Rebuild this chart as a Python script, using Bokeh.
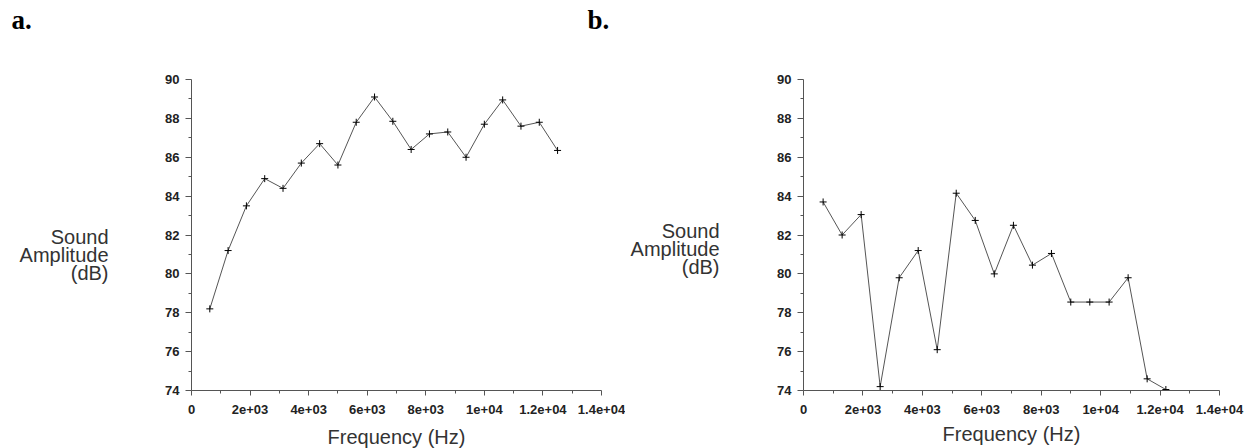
from bokeh.plotting import figure
from bokeh.models import Range1d, FixedTicker, Label
from bokeh.layouts import row
from bokeh.embed import file_html
from bokeh.resources import INLINE

# ---- data ----
freq_a = [625, 1250, 1875, 2500, 3125, 3750, 4375, 5000, 5625, 6250,
          6875, 7500, 8125, 8750, 9375, 10000, 10625, 11250, 11875, 12500]
amp_a = [78.2, 81.2, 83.5, 84.9, 84.4, 85.7, 86.7, 85.6, 87.8, 89.1,
         87.85, 86.4, 87.2, 87.3, 86.0, 87.7, 88.95, 87.6, 87.8, 86.35]

freq_b = [660, 1300, 1940, 2580, 3220, 3860, 4500, 5140, 5780, 6420,
          7065, 7705, 8345, 8995, 9635, 10285, 10925, 11565, 12195]
amp_b = [83.7, 82.0, 83.05, 74.2, 79.8, 81.2, 76.1, 84.15, 82.75, 80.0,
         82.5, 80.45, 81.05, 78.55, 78.55, 78.55, 79.8, 74.6, 74.05]

x_ticks = [0, 2000, 4000, 6000, 8000, 10000, 12000, 14000]
x_tick_labels = ["0", "2e+03", "4e+03", "6e+03", "8e+03", "1e+04", "1.2e+04", "1.4e+04"]
x_minor = [1000, 3000, 5000, 7000, 9000, 11000, 13000]
y_ticks = [74, 76, 78, 80, 82, 84, 86, 88, 90]
y_tick_labels = ["74", "76", "78", "80", "82", "84", "86", "88", "90"]
y_minor = [75, 77, 79, 81, 83, 85, 87, 89]

x_title = "Frequency (Hz)"
y_title = ["Sound", "Amplitude", "(dB)"]
panel_tags = ["a.", "b."]

AX = "#555555"
TXT = "#333333"
SANS = "Liberation Sans"
H = 448


def make_panel(freq, amp, width, border):
    left, right, top, bottom = border
    p = figure(width=width, height=H, output_backend="svg", toolbar_location=None,
               x_range=Range1d(0, 14000), y_range=Range1d(74, 90),
               min_border_left=left, min_border_right=right,
               min_border_top=top, min_border_bottom=bottom)
    p.outline_line_color = None
    p.xgrid.visible = False
    p.ygrid.visible = False
    p.background_fill_color = "white"
    p.border_fill_color = "white"

    p.xaxis.ticker = FixedTicker(ticks=x_ticks, minor_ticks=x_minor)
    p.yaxis.ticker = FixedTicker(ticks=y_ticks, minor_ticks=y_minor)
    p.xaxis.major_label_overrides = dict(zip(x_ticks, x_tick_labels))
    p.yaxis.major_label_overrides = dict(zip(y_ticks, y_tick_labels))
    for ax in (p.xaxis, p.yaxis):
        ax.axis_line_color = AX
        ax.major_tick_line_color = AX
        ax.minor_tick_line_color = AX
        ax.major_tick_in = 0
        ax.minor_tick_in = 0
        ax.major_label_text_font = SANS
        ax.major_label_text_font_size = "13px"
        ax.major_label_text_font_style = "bold"
        ax.major_label_text_color = "#222222"
    p.xaxis.major_tick_out = 5
    p.xaxis.minor_tick_out = 3
    p.yaxis.major_tick_out = 6
    p.yaxis.minor_tick_out = 3
    p.xaxis.major_label_standoff = 9
    p.yaxis.major_label_standoff = 6

    p.line(freq, amp, line_color="#555555", line_width=1)
    p.scatter(freq, amp, marker="cross", size=7, line_color="black", line_width=1)
    return p


def add_text(p, origin, side, px, baseline, text, size, align="left", font=SANS,
             style="normal", color=TXT):
    # text is anchored by its middle; shift from the wanted baseline
    ox, oy = origin
    lab = Label(x=px - ox, y=baseline - 0.35 * size - oy, x_units="canvas", y_units="canvas",
                text=text, text_align=align, text_baseline="middle",
                text_font=font, text_font_size=f"{size}px", text_font_style=style,
                text_color=color)
    p.add_layout(lab, side)


# canvas top-left corner of each figure in page pixels
org_a = (0, 0)
org_b = (625, 0)

# borders: left, right, top, bottom
pa = make_panel(freq_a, amp_a, 625, (191, 24, 79, 55))
pb = make_panel(freq_b, amp_b, 625, (178, 31, 70, 58))

# panel a texts (spread over side panels that have room)
sides = ["left", "above", "left"]
for txt, by, sd in zip(y_title, [243, 261, 279], sides):
    add_text(pa, org_a, sd, 108, by, txt, 20, align="right")
add_text(pa, org_a, "above", 396, 443, x_title, 20, align="center")
add_text(pa, org_a, "left", 11, 29, panel_tags[0], 27, font="Liberation Serif", style="bold", color="black")
add_text(pa, org_a, "left", 587, 29, panel_tags[1], 27, font="Liberation Serif", style="bold", color="black")

# panel b texts
for txt, by, sd in zip(y_title, [237, 255, 273], sides):
    add_text(pb, org_b, sd, 719, by, txt, 20, align="right")
add_text(pb, org_b, "above", 1011, 440, x_title, 20, align="center")

layout = row(pa, pb)
open("out.html", "w").write(file_html(layout, INLINE))
